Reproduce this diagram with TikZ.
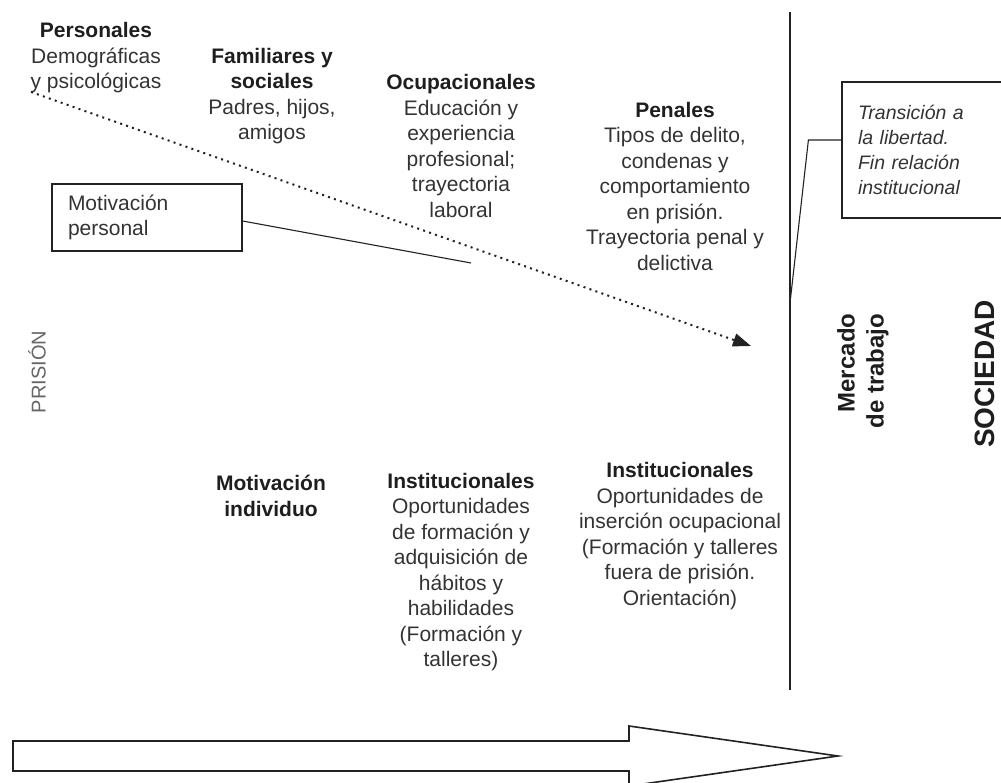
\documentclass[tikz,border=0pt]{standalone}
\usepackage{fontspec}
\setmainfont{Liberation Sans}
\usetikzlibrary{arrows.meta}
\definecolor{txt}{HTML}{333333}
\definecolor{hdc}{HTML}{1E1E1E}
\definecolor{lgray}{HTML}{666666}
\definecolor{ln}{HTML}{222222}
\newcommand\hdr[1]{{\bfseries\color{hdc}#1}}
\begin{document}
\begin{tikzpicture}[x=1pt,y=-1pt,
  blk/.style={align=center, inner sep=0pt, text=txt, font=\fontsize{21}{25.5}\selectfont},
  boxed/.style={draw=ln, line width=1.2pt, inner sep=0pt, align=left, text=txt},
  thin/.style={draw=ln, line width=1.1pt},
  dotarrow/.style={draw=ln, line width=2pt, dash pattern=on 2pt off 4.3pt, -{Triangle[length=18pt,width=13pt]}}
]
\useasboundingbox (0,0) rectangle (1001,783);

% text blocks
\node[blk] (pers) at (96,58) {\hdr{Personales}\\Demográficas\\y psicológicas};
\node[blk] (fam) at (272,96) {\hdr{Familiares y}\\\hdr{sociales}\\Padres, hijos,\\amigos};
\node[blk] (ocu) at (461,146) {\hdr{Ocupacionales}\\Educación y\\experiencia\\profesional;\\trayectoria\\laboral};
\node[blk] (pen) at (675,186) {\hdr{Penales}\\Tipos de delito,\\condenas y\\comportamiento\\en prisión.\\Trayectoria penal y\\delictiva};
\node[blk] (mot) at (271,496) {\hdr{Motivación}\\\hdr{individuo}};
\node[blk] (ins1) at (461,572) {\hdr{Institucionales}\\Oportunidades\\de formación y\\adquisición de\\hábitos y\\habilidades\\(Formación y\\talleres)};
\node[blk] (ins2) at (680,536) {\hdr{Institucionales}\\Oportunidades de\\inserción ocupacional\\(Formación y talleres\\fuera de prisión.\\Orientación)};

% rotated labels
\node[inner sep=0pt, rotate=90, text=lgray, font=\fontsize{20}{24}\selectfont] (pri) at (37,372) {PRISIÓN};
\node[inner sep=0pt, rotate=90, align=right, text=hdc, font=\bfseries\fontsize{24}{29}\selectfont] (mer) at (863,371) {Mercado\\de trabajo};
\node[inner sep=0pt, rotate=90, text=hdc, font=\bfseries\fontsize{28}{32}\selectfont] (soc) at (985,374) {SOCIEDAD};

% boxes
\node[boxed, minimum width=190pt, minimum height=67pt, text width=158pt,
      font=\fontsize{21}{25}\selectfont] (mp) at (147,217.5) {Motivación\\personal};
\node[boxed, minimum width=168pt, minimum height=136pt, text width=136pt,
      font=\itshape\fontsize{19.5}{25}\selectfont] (tb) at (926,150) {Transición a\\la libertad.\\Fin relación\\institucional};

% vertical divider
\coordinate (vt) at (790,12);
\coordinate (vb) at (790,690);
\coordinate (vc) at (790,303);
\draw[thin] (vt) -- (vb);

% connectors
\coordinate (ml) at (471,263);
\draw[thin] ([yshift=-3.5pt]mp.east) -- (ml);
\draw[thin] ([yshift=10pt]tb.west) -- ++(-33,0) -- (vc);

% dotted arrow
\coordinate (ds) at (31,92);
\coordinate (de) at (751,346);
\draw[dotarrow] (ds) -- (de);

% big block arrow
\draw[draw=ln, line width=1.6pt, fill=white, line join=miter]
  (13,741) -- (629,741) -- (629,726) -- (838,756) -- (629,786) -- (629,771) -- (13,771) -- cycle;
\end{tikzpicture}
\end{document}
